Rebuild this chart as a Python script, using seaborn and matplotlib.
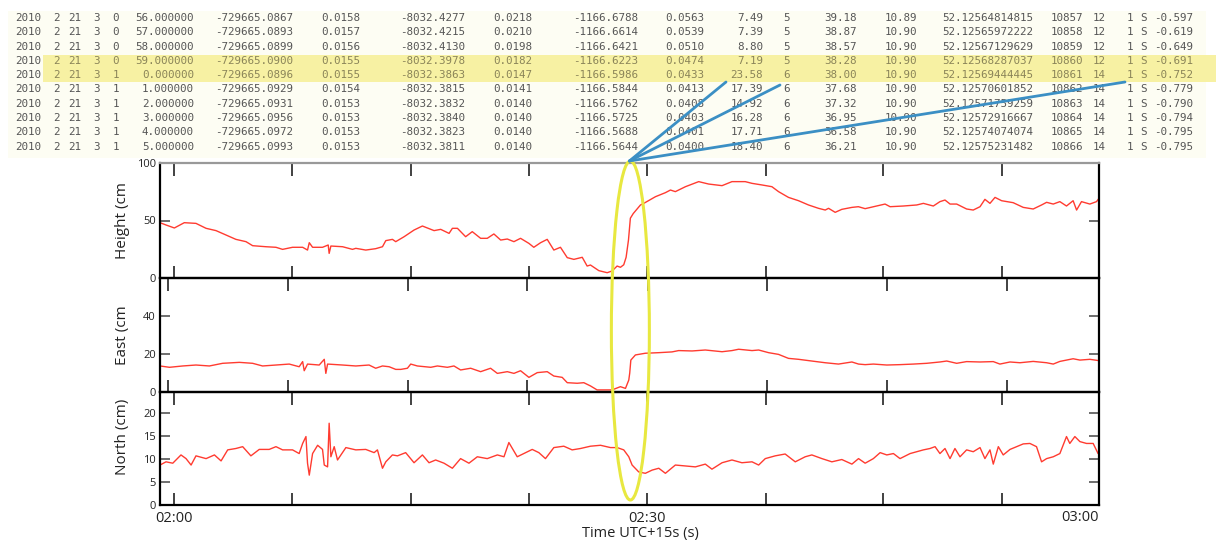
import matplotlib
matplotlib.use("Agg")
import matplotlib.pyplot as plt
from matplotlib.patches import Ellipse, Rectangle
import pandas as pd
import seaborn as sns

# time in minutes after 02:00 (UTC+15s)
height_t = [-0.89, -0.51, 0.02, 0.65, 1.39, 2.03, 2.66, 3.29, 3.92, 4.56, 4.98, 5.82, 6.46, 6.88,
            7.51, 8.15, 8.46, 8.57, 8.78, 9.41, 9.77, 9.83, 9.94, 10.68, 11.31, 11.52, 12.15, 12.78,
            13.21, 13.42, 13.84, 14.05, 14.58, 15.21, 15.74, 16.48, 16.90, 17.43, 17.64, 17.96, 18.48,
            18.90, 19.43, 19.85, 20.27, 20.70, 21.12, 21.54, 21.96, 22.49, 22.80, 23.23, 23.65, 24.07,
            24.49, 24.92, 25.34, 25.87, 26.18, 26.39, 26.92, 27.45, 27.76, 28.08, 28.29, 28.50, 28.65,
            28.80, 28.92, 29.10, 29.56, 29.77, 30.51, 31.14, 31.46, 31.77, 32.41, 33.25, 33.88, 34.73,
            35.36, 36.20, 36.63, 37.26, 37.89, 38.31, 38.94, 39.58, 40.21, 40.84, 41.27, 41.48, 41.90,
            42.32, 42.96, 43.37, 43.80, 44.54, 45.06, 45.38, 46.22, 47.07, 47.49, 48.12, 48.54, 48.86,
            49.18, 49.60, 50.23, 50.65, 51.08, 51.39, 51.71, 52.03, 52.45, 53.18, 53.82, 54.45, 54.98,
            55.30, 55.72, 56.14, 56.56, 56.98, 57.20, 57.51, 58.04, 58.46, 58.62]
height_cm = [48.1, 46.1, 43.5, 48.1, 47.5, 43.2, 41.2, 37.4, 33.6, 31.6, 28.1, 27.2, 26.7, 24.9,
             26.7, 26.7, 24.3, 30.7, 26.7, 26.7, 28.7, 21.4, 27.8, 27.2, 24.9, 25.8, 24.3, 25.5,
             27.2, 32.5, 33.6, 31.6, 35.9, 41.7, 45.2, 41.2, 42.3, 38.8, 43.2, 43.2, 35.9,
             40.3, 34.5, 34.5, 38.3, 33.0, 33.9, 31.6, 34.5, 30.1, 26.7, 30.7, 33.6, 24.3,
             26.7, 17.7, 16.2, 18.0, 10.4, 11.3, 6.4, 4.6, 6.1, 10.4, 9.3, 11.5, 18.0,
             33.0, 52.0, 56.0, 63.5, 64.9, 70.7, 74.2, 76.5, 75.1, 79.4, 83.8, 81.7, 80.3,
             83.8, 83.8, 82.3, 80.9, 79.4, 75.1, 70.1, 67.2, 63.5, 60.6, 59.1, 60.6, 57.1,
             59.7, 61.4, 62.0, 60.3, 62.6, 64.3, 62.0, 62.6, 63.5, 64.9, 62.6, 66.4, 67.8,
             64.3, 64.3, 60.0, 59.1, 62.0, 68.4, 64.9, 70.1, 67.2, 65.5, 61.4, 60.0, 63.5,
             65.8, 64.3, 66.4, 62.6, 67.2, 59.1, 66.4, 64.3, 66.4, 69.3]

east_t = [-0.89, -0.29, 0.55, 1.39, 2.24, 3.08, 4.14, 4.98, 5.61, 6.46, 7.30, 7.93, 8.15, 8.25,
          8.46, 9.20, 9.52, 9.62, 9.73, 10.68, 11.52, 12.36, 12.78, 13.21, 13.63, 14.05, 14.37,
          14.79, 15.00, 15.42, 16.27, 16.69, 17.32, 17.74, 18.16, 18.80, 19.43, 20.06, 20.49,
          21.12, 21.54, 21.96, 22.49, 23.02, 23.65, 24.07, 24.60, 24.92, 25.55, 25.97, 26.39,
          26.81, 27.24, 27.76, 28.29, 28.61, 28.82, 28.88, 28.95, 29.24, 29.87, 30.72, 31.56,
          31.98, 32.83, 33.67, 34.73, 35.36, 35.78, 36.63, 37.05, 37.68, 38.31, 38.94, 39.58,
          40.42, 41.27, 42.11, 42.96, 43.38, 43.80, 44.32, 45.17, 46.01, 46.86, 47.70, 48.54,
          48.97, 49.60, 50.23, 51.08, 51.92, 52.34, 52.98, 53.61, 54.45, 55.30, 55.72, 56.14,
          56.56, 56.98, 57.41, 58.04, 58.62]
east_cm = [13.7, 13.0, 13.7, 14.2, 13.7, 15.1, 15.6, 15.1, 13.7, 14.2, 14.7, 13.3, 16.0, 11.2,
           14.7, 14.2, 17.2, 9.8, 14.7, 14.2, 13.7, 14.2, 12.5, 13.7, 13.3, 11.9, 11.9,
           12.5, 14.7, 13.7, 13.0, 13.7, 13.0, 13.7, 11.6, 12.5, 10.7, 12.5, 9.8,
           10.7, 9.8, 11.2, 7.7, 10.2, 10.7, 8.4, 7.7, 4.9, 4.6, 4.9, 3.2,
           1.1, 1.1, 1.1, 2.8, 1.9, 6.3, 10.0, 16.8, 19.5, 20.4, 20.7, 21.1,
           21.8, 21.6, 22.1, 21.2, 21.8, 22.5, 21.8, 22.1, 20.7, 19.8, 17.7, 17.2,
           16.3, 15.4, 14.7, 15.8, 14.7, 14.4, 14.7, 14.2, 14.4, 14.7, 15.1, 15.8,
           16.3, 15.1, 16.0, 15.8, 16.0, 14.7, 15.8, 15.4, 16.1, 15.4, 14.7, 16.1,
           16.8, 17.5, 16.8, 17.2, 16.5]

north_t = [-0.89, -0.51, -0.08, 0.44, 0.76, 1.08, 1.39, 2.03, 2.56, 2.98, 3.40, 3.92, 4.35, 4.87,
           5.40, 6.03, 6.46, 6.88, 7.51, 7.93, 8.15, 8.36, 8.46, 8.57, 8.78, 9.10, 9.41, 9.52,
           9.73, 9.83, 9.94, 10.15, 10.36, 10.89, 11.52, 12.15, 12.68, 12.89, 13.21, 13.42, 13.84,
           14.16, 14.68, 15.21, 15.74, 16.16, 16.58, 17.11, 17.64, 18.16, 18.69, 19.22, 19.85,
           20.49, 20.91, 21.22, 21.75, 22.17, 22.70, 23.12, 23.54, 24.07, 24.70, 25.23, 25.76,
           26.39, 27.03, 27.66, 28.08, 28.50, 28.82, 29.03, 29.45, 29.87, 30.30, 30.72, 31.14,
           31.77, 32.41, 33.04, 33.67, 34.09, 34.73, 35.36, 35.99, 36.63, 37.05, 37.47, 38.10,
           38.73, 39.37, 40.00, 40.42, 41.06, 41.69, 42.32, 42.96, 43.38, 43.80, 44.32, 44.75,
           45.17, 45.59, 46.01, 46.65, 47.07, 47.49, 47.91, 48.23, 48.54, 48.86, 49.18, 49.49,
           49.81, 50.23, 50.65, 51.08, 51.39, 51.71, 51.92, 52.24, 52.55, 52.98, 53.40, 53.82,
           54.24, 54.66, 54.98, 55.30, 55.72, 56.14, 56.56, 56.77, 57.09, 57.41, 57.83, 58.25,
           58.56]
north_cm = [8.7, 9.4, 9.1, 10.9, 10.1, 8.7, 10.7, 10.1, 10.9, 9.6, 12.0, 12.3, 12.7, 10.7,
            12.1, 12.1, 12.7, 12.0, 12.0, 11.2, 13.4, 14.9, 9.1, 6.5, 11.2, 13.0, 12.1, 8.7,
            8.3, 17.8, 10.5, 12.7, 9.8, 12.5, 12.0, 12.1, 11.4, 12.0, 8.0, 9.4, 10.9,
            10.7, 11.4, 9.2, 10.9, 9.2, 9.8, 9.1, 8.0, 10.1, 9.1, 10.5, 10.1,
            10.9, 10.5, 13.6, 10.5, 11.2, 12.1, 11.4, 10.1, 12.5, 12.8, 12.0, 12.3,
            12.8, 13.0, 12.5, 12.5, 12.0, 10.5, 8.7, 7.2, 6.9, 7.6, 8.0, 6.9,
            8.7, 8.5, 8.3, 8.9, 7.8, 9.2, 9.8, 9.2, 9.4, 8.7, 10.1, 10.7,
            11.1, 9.4, 10.5, 10.9, 10.1, 9.4, 9.9, 8.9, 10.1, 9.1, 10.1, 11.4,
            10.9, 11.2, 10.1, 11.2, 11.6, 12.0, 12.3, 12.7, 11.2, 12.3, 10.1, 12.3,
            10.5, 12.0, 11.6, 12.5, 10.1, 12.0, 8.9, 12.7, 10.9, 12.1, 12.7, 13.3,
            13.4, 12.7, 9.4, 10.1, 10.5, 11.2, 14.9, 13.4, 14.9, 13.8, 13.4, 13.4,
            11.2]

event_t = 28.92  # jump in all components
time_labels = ["02:00", "02:30", "03:00"]

table_rows = [
    "2010 2 21 3 0 56.000000 -729665.0867 0.0158 -8032.4277 0.0218 -1166.6788 0.0563 7.49 5 39.18 10.89 52.12564814815 10857 12 1 S -0.597",
    "2010 2 21 3 0 57.000000 -729665.0893 0.0157 -8032.4215 0.0210 -1166.6614 0.0539 7.39 5 38.87 10.90 52.12565972222 10858 12 1 S -0.619",
    "2010 2 21 3 0 58.000000 -729665.0899 0.0156 -8032.4130 0.0198 -1166.6421 0.0510 8.80 5 38.57 10.90 52.12567129629 10859 12 1 S -0.649",
    "2010 2 21 3 0 59.000000 -729665.0900 0.0155 -8032.3978 0.0182 -1166.6223 0.0474 7.19 5 38.28 10.90 52.12568287037 10860 12 1 S -0.691",
    "2010 2 21 3 1 0.000000 -729665.0896 0.0155 -8032.3863 0.0147 -1166.5986 0.0433 23.58 6 38.00 10.90 52.12569444445 10861 14 1 S -0.752",
    "2010 2 21 3 1 1.000000 -729665.0929 0.0154 -8032.3815 0.0141 -1166.5844 0.0413 17.39 6 37.68 10.90 52.12570601852 10862 14 1 S -0.779",
    "2010 2 21 3 1 2.000000 -729665.0931 0.0153 -8032.3832 0.0140 -1166.5762 0.0408 14.92 6 37.32 10.90 52.12571759259 10863 14 1 S -0.790",
    "2010 2 21 3 1 3.000000 -729665.0956 0.0153 -8032.3840 0.0140 -1166.5725 0.0403 16.28 6 36.95 10.90 52.12572916667 10864 14 1 S -0.794",
    "2010 2 21 3 1 4.000000 -729665.0972 0.0153 -8032.3823 0.0140 -1166.5688 0.0401 17.71 6 36.58 10.90 52.12574074074 10865 14 1 S -0.795",
    "2010 2 21 3 1 5.000000 -729665.0993 0.0153 -8032.3811 0.0140 -1166.5644 0.0400 18.40 6 36.21 10.90 52.12575231482 10866 14 1 S -0.795",
]
highlight_rows = [3, 4]

sns.set_style("ticks")
plt.rcParams["font.family"] = ["Open Sans", "DejaVu Sans"]

W, H = 1216, 540
fig = plt.figure(figsize=(W / 100, H / 100), dpi=100)

left, width = 160 / W, 939 / W
ax_h = fig.add_axes([left, 1 - 278 / H, width, 115 / H])
ax_e = fig.add_axes([left, 1 - 392 / H, width, 114 / H])
ax_n = fig.add_axes([left, 1 - 505 / H, width, 113 / H])

red = "#ff3b30"
panels = [
    (ax_h, height_t, height_cm, (0, 100), [0, 50, 100], "Height (cm", 0.5),
    (ax_e, east_t, east_cm, (0, 60), [0, 20, 40], "East (cm", 0.5),
    (ax_n, north_t, north_cm, (0, 24.6), [0, 5, 10, 15, 20], "North (cm)", 0.6),
]
std_ticks = [0, 7.5, 15, 22.5, 30, 37.5, 44.9, 52.5]
east_ticks = [-0.4, 7.2, 14.8, 22.4, 30.04, 37.6, 45.2, 52.8]

for ax, t, v, ylim, yt, lab, ly in panels:
    df = pd.DataFrame({"t": t, "v": v})
    sns.lineplot(data=df, x="t", y="v", ax=ax, color=red, lw=1.0, estimator=None)
    ax.set_xlim(-0.89, 58.62)
    ax.set_ylim(*ylim)
    ax.set_yticks(yt)
    ax.set_xticks(east_ticks if ax is ax_e else std_ticks)
    ax.set_xticklabels([])
    ax.tick_params(axis="x", direction="in", top=True, bottom=True, length=9, width=1.3,
                   color="#333")
    ax.tick_params(axis="y", direction="in", left=True, right=True, length=7, width=1.2,
                   color="#555", labelsize=8, labelcolor="#222", pad=3)
    ax.set_xlabel("")
    ax.set_ylabel(lab, fontsize=11, color="#222")
    ax.yaxis.set_label_coords(-0.032, ly)
    for s in ax.spines.values():
        s.set_linewidth(1.6)
        s.set_color("black")
    ax.patch.set_alpha(0)

ax_h.spines["top"].set_color("#999999")

# bottom time axis labels: 02:00 and 02:30 on ticks, 03:00 at the right edge
bottom_labels = [""] * len(std_ticks)
bottom_labels[0] = time_labels[0]
bottom_labels[4] = time_labels[1]
ax_n.set_xticks(std_ticks)
ax_n.set_xticklabels(bottom_labels, fontsize=10.5, color="#222")
ax_n.tick_params(axis="x", pad=4)
ax_n.text(1.0, -0.04, time_labels[2], transform=ax_n.transAxes, ha="right", va="top",
          fontsize=10.5, color="#222")
ax_n.set_xlabel("Time UTC+15s (s)", fontsize=10.5, color="#222")
ax_n.xaxis.set_label_coords(0.512, -0.19)

# overlay in pixel coordinates for table and annotation
ov = fig.add_axes([0, 0, 1, 1], zorder=10)
ov.set_xlim(0, W)
ov.set_ylim(H, 0)
ov.axis("off")
ov.patch.set_alpha(0)

ov.add_patch(Rectangle((8, 11), 1198, 147, fc="#fdfdf3", ec="none", zorder=0))
ov.add_patch(Rectangle((43, 55), W - 43, 27, fc="#f7f1a3", ec="none", zorder=1))

col_right = [41, 60, 81, 100, 119, 194, 293, 360, 465, 532, 638, 704, 763, 790, 857, 917,
             1033, 1083, 1106, 1133, 1147, 1193]
for i, row in enumerate(table_rows):
    y = 18 + i * 14.3
    color = "#8a8458" if i in highlight_rows else "#555555"
    for j, tok in enumerate(row.split()):
        c = "#555555" if j == 0 else color
        ov.text(col_right[j], y, tok, ha="right", va="center", family="DejaVu Sans Mono",
                fontsize=7.8, color=c, zorder=2)

# ellipse around the jump, placed from the event time
ex = ax_h.transData.transform((event_t, 0))[0]
ov.add_patch(Ellipse((ex, 330.5), 38, 339, fill=False, ec="#e8e840", lw=2.2, zorder=3))
apex = (ex - 1, 161)
for end in [(726, 82), (780, 85), (1125, 82)]:
    ov.plot([apex[0], end[0]], [apex[1], end[1]], color="#3b8fc4", lw=2, zorder=4,
            solid_capstyle="round")

fig.savefig("out.png", dpi=100)
